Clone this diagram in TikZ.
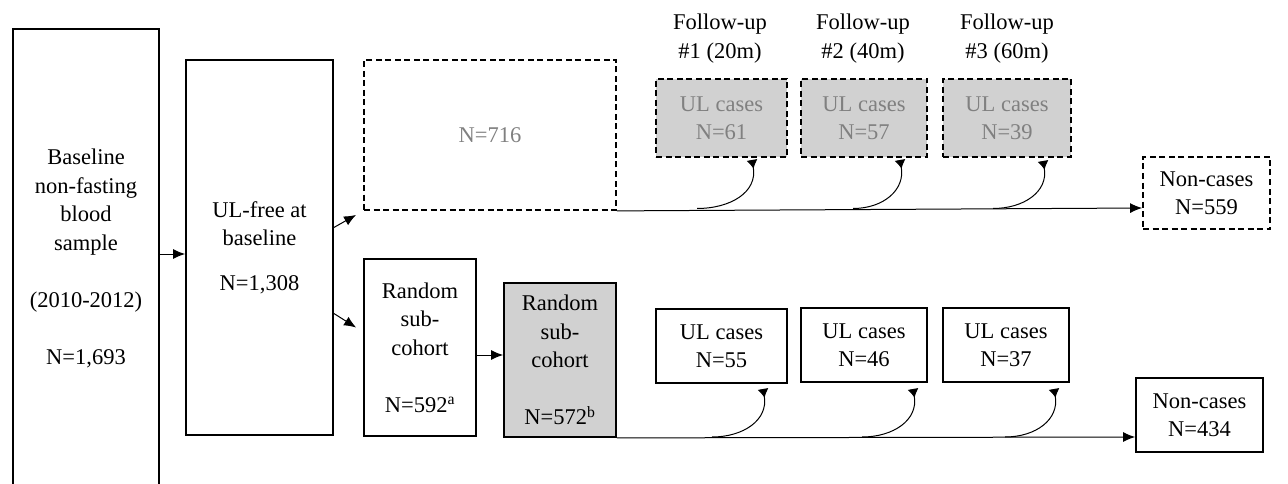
\documentclass[tikz,border=0pt]{standalone}
\usepackage{fontspec}
\setmainfont{Liberation Serif}
\usetikzlibrary{calc,arrows.meta}
\begin{document}
\begin{tikzpicture}[x=1pt,y=-1pt,
  txt/.style={align=center, font=\fontsize{22.5}{28.5}\selectfont},
  box/.style={txt, draw, line width=1.8pt, inner sep=0pt},
  dbox/.style={box, dash pattern=on 6pt off 3.5pt},
  graybox/.style={fill=black!18},
  graytxt/.style={text=black!50},
  arr/.style={line width=1pt, -{Latex[length=12pt,width=10pt]}},
  carr/.style={line width=1pt, -{Latex[reversed,length=9pt,width=11pt]}}
]
\useasboundingbox (0,0) rectangle (1288,484);
\clip (0,0) rectangle (1288,484);

% main column boxes
\node[box, minimum width=146pt, minimum height=459pt] (b1) at (86,258.5)
  {Baseline\\non-fasting\\blood\\sample\\[28.5pt](2010-2012)\\[28.5pt]N=1,693};
\node[box, minimum width=147pt, minimum height=375pt] (b2) at (259.5,247.5)
  {UL-free at\\baseline\\[16pt]N=1,308};

% upper (excluded) branch
\node[dbox, graytxt, minimum width=252pt, minimum height=150pt] (n716) at (490,135) {N=716};

\node[txt] (f1) at (720,38.5) {Follow-up\\\#1 (20m)};
\node[txt] (f2) at (863,38.5) {Follow-up\\\#2 (40m)};
\node[txt] (f3) at (1007,38.5) {Follow-up\\\#3 (60m)};

\node[dbox, graybox, graytxt, minimum width=131pt, minimum height=78pt] (c1) at (721.5,118) {UL cases\\N=61};
\node[dbox, graybox, graytxt, minimum width=126pt, minimum height=78pt] (c2) at (864,118) {UL cases\\N=57};
\node[dbox, graybox, graytxt, minimum width=128pt, minimum height=78pt] (c3) at (1007,118) {UL cases\\N=39};

\node[dbox, minimum width=127pt, minimum height=72pt] (nc1) at (1206.5,193) {Non-cases\\N=559};

% lower (sub-cohort) branch
\node[box, minimum width=112pt, minimum height=177pt] (rs1) at (420,347.5)
  {Random\\sub-\\cohort\\[28.5pt]N=592\textsuperscript{a}};
\node[box, graybox, minimum width=112pt, minimum height=154pt] (rs2) at (560,360)
  {Random\\sub-\\cohort\\[28.5pt]N=572\textsuperscript{b}};

\node[box, minimum width=131pt, minimum height=74pt] (d1) at (721.5,346) {UL cases\\N=55};
\node[box, minimum width=126pt, minimum height=74pt] (d2) at (864,345) {UL cases\\N=46};
\node[box, minimum width=126pt, minimum height=74pt] (d3) at (1006,345) {UL cases\\N=37};

\node[box, minimum width=127pt, minimum height=74pt] (nc2) at (1199.5,415) {Non-cases\\N=434};

% connectors
\draw[arr] ($(b1.east)+(0,-4.5)$) -- ($(b2.west)+(0,6.5)$);
\draw[arr] ($(b2.east)+(0,-20)$) -- ($(n716.south west)+(-7,4)$);
\draw[arr] ($(b2.east)+(0,66)$) -- ($(rs1.west)+(-7,-20)$);
\draw[arr] ($(rs1.east)+(0,7.5)$) -- ($(rs2.west)+(0,-5)$);

\draw[arr] (n716.south east) -- ($(nc1.west)+(0,15)$);
\draw[arr] (rs2.south east) -- ($(nc2.west)+(0,22)$);

\coordinate (s1) at (697,208.5);
\coordinate (s2) at (853,208.5);
\coordinate (s3) at (993,208.5);
\coordinate (t1) at (752,160);
\coordinate (t2) at (900,160);
\coordinate (t3) at (1043,161);
\draw[carr] (s1) to[out=0,in=-80,looseness=1.15] (t1);
\draw[carr] (s2) to[out=0,in=-80,looseness=1.15] (t2);
\draw[carr] (s3) to[out=0,in=-80,looseness=1.15] (t3);

\coordinate (s4) at (712,437);
\coordinate (s5) at (862,437);
\coordinate (s6) at (1005,437);
\coordinate (t4) at (763,389);
\coordinate (t5) at (913,389);
\coordinate (t6) at (1054,389);
\draw[carr] (s4) to[out=0,in=-80,looseness=1.15] (t4);
\draw[carr] (s5) to[out=0,in=-80,looseness=1.15] (t5);
\draw[carr] (s6) to[out=0,in=-80,looseness=1.15] (t6);
\end{tikzpicture}
\end{document}
